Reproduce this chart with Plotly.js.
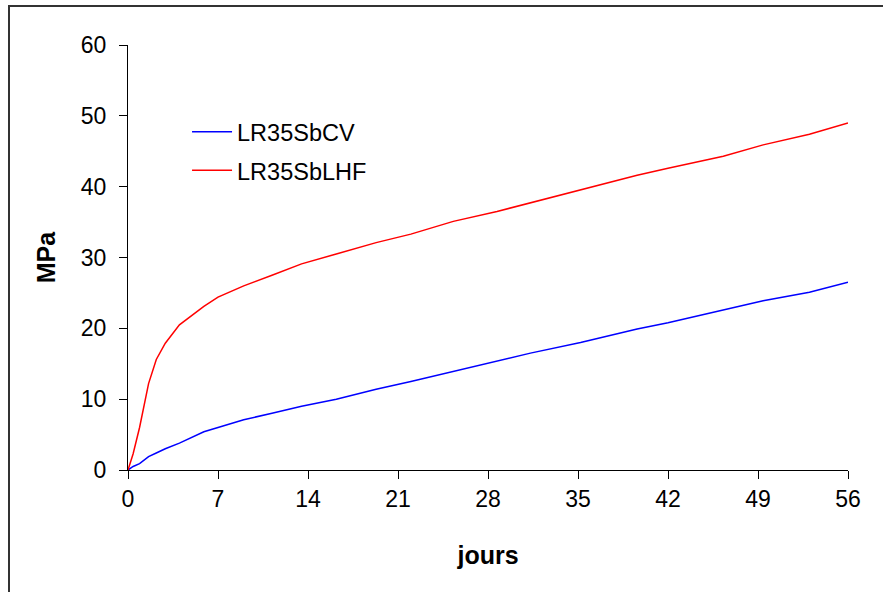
<!DOCTYPE html>
<html>
<head>
<meta charset="utf-8">
<script src="https://cdn.plot.ly/plotly-3.0.1.min.js"></script>
<style>
html,body{margin:0;padding:0;background:#fff;}
#chart{width:883px;height:592px;}
</style>
</head>
<body>
<div id="chart"></div>
<script>
const days = [0, 0.4, 0.9, 1.6, 2.2, 2.9, 4, 5.9, 7, 9, 11.2, 13.5, 16.2, 19.3, 22, 25.3, 28.7, 31.3, 35.2, 39.6, 42, 46.3, 49.4, 53, 56];
const cvValues = [0, 0.5, 0.9, 1.9, 2.4, 3.0, 3.8, 5.4, 6.0, 7.1, 8.0, 9.0, 10.0, 11.4, 12.5, 13.9, 15.3, 16.5, 18.0, 19.9, 20.8, 22.6, 23.9, 25.1, 26.5];
const lhfValues = [0, 2.3, 6.0, 12.2, 15.6, 17.9, 20.5, 23.1, 24.4, 26.0, 27.5, 29.1, 30.5, 32.1, 33.3, 35.1, 36.5, 37.7, 39.6, 41.6, 42.6, 44.3, 45.9, 47.4, 49.0];
const seriesNames = ["LR35SbCV", "LR35SbLHF"];
const xTicks = [0, 7, 14, 21, 28, 35, 42, 49, 56];
const yTicks = [0, 10, 20, 30, 40, 50, 60];

const traces = [
  {x: days, y: cvValues, name: seriesNames[0], type: 'scatter', mode: 'lines',
   line: {color: '#0000ff', width: 1.5}, legendgroup: 'a'},
  {x: days, y: lhfValues, name: seriesNames[1], type: 'scatter', mode: 'lines',
   line: {color: '#ff0000', width: 1.5}, legendgroup: 'b'}
];

const layout = {
  width: 883, height: 592,
  margin: {l: 128, r: 35, t: 45, b: 122},
  paper_bgcolor: '#fff', plot_bgcolor: '#fff',
  font: {family: 'Liberation Sans, Arial, sans-serif', size: 23, color: '#000'},
  showlegend: true,
  legend: {x: 0.082, y: 0.847, xanchor: 'left', yanchor: 'top', bgcolor: 'rgba(0,0,0,0)',
           font: {size: 23.5}, traceorder: 'grouped', tracegroupgap: 5, itemwidth: 40},
  xaxis: {
    range: [0, 56], tickvals: xTicks, ticktext: xTicks.map(String),
    showgrid: false, zeroline: false, showline: true, linecolor: '#000', linewidth: 1,
    ticks: 'outside', ticklen: 8, tickcolor: '#000', tickwidth: 1,
    tickfont: {size: 23},
    title: {text: '<b>jours</b>', font: {size: 25}, standoff: 35}
  },
  yaxis: {
    range: [0, 60], tickvals: yTicks, ticktext: yTicks.map(String),
    showgrid: false, zeroline: false, showline: true, linecolor: '#000', linewidth: 1,
    ticks: 'outside', ticklen: 8, tickcolor: '#000', tickwidth: 1,
    tickfont: {size: 23}, ticklabelstandoff: 8,
    title: {text: '<b>MPa</b>', font: {size: 25}, standoff: 18}
  },
  shapes: [{
    type: 'rect', xref: 'paper', yref: 'paper',
    x0: (9 - 128) / 720, x1: (895 - 128) / 720,
    y0: (470 - 605) / 425, y1: (470 - 6) / 425,
    line: {color: '#333', width: 2}, fillcolor: 'rgba(0,0,0,0)', layer: 'below'
  }]
};

Plotly.newPlot('chart', traces, layout, {displayModeBar: false, staticPlot: true});
</script>
</body>
</html>
